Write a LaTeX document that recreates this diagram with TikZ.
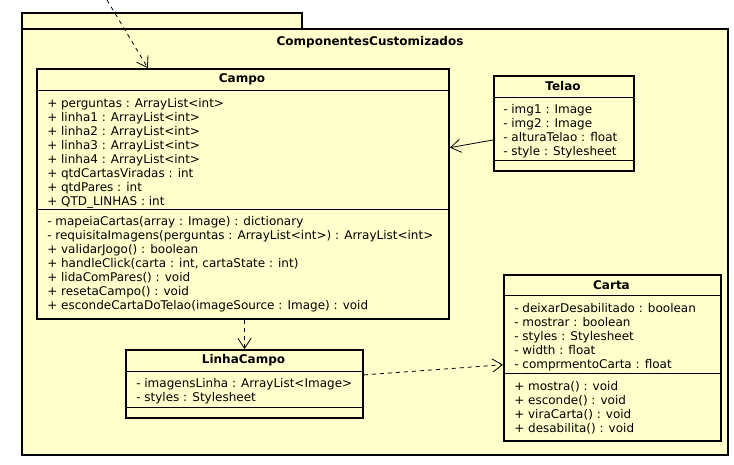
\documentclass[tikz,border=0pt]{standalone}
\usepackage{fontspec}
\setmainfont{DejaVu Sans}
\usetikzlibrary{arrows.meta}
\usetikzlibrary{calc}

\definecolor{umlfill}{RGB}{255,255,204}

\begin{document}
\begin{tikzpicture}[x=0.75pt,y=0.75pt,yscale=-1,xscale=1,
  classbox/.style={draw,line width=1.5pt,fill=umlfill,inner sep=0pt,anchor=north west},
  sepline/.style={line width=0.75pt},
  members/.style={anchor=north west,inner sep=0pt,align=left,font=\fontsize{9}{10.5}\selectfont},
  classname/.style={inner sep=0.75pt,font=\fontsize{9}{10.5}\selectfont\bfseries},
  dep/.style={line width=0.6pt,dash pattern=on 3pt off 3pt,-{Straight Barb[length=7.5pt,width=10pt]}},
  assoc/.style={line width=0.6pt,-{Straight Barb[length=7.5pt,width=10pt]}}]
\useasboundingbox (0,0) rectangle (734,464);

%Shape: Package tab
\draw [line width=1.5pt,fill=umlfill] (22,13) rectangle (302,29);
%Shape: Package body
\draw [line width=1.5pt,fill=umlfill] (22,29) rectangle (728,455);
% Text Node
\node (pkgname) [classname] at (370,42) {ComponentesCustomizados};

%Shape: Class Campo
\node (campo) [classbox,minimum width=309pt,minimum height=187.5pt] at (36,68) {};
\draw [sepline] (36,90) -- (448,90);
\draw [sepline] (36,209.5) -- (448,209.5);
% Text Node
\node (camponame) [classname] at (242,79) {Campo};
\node (campoattr) [members] at (47,98) {+ perguntas : ArrayList<int>\\
+ linha1 : ArrayList<int>\\
+ linha2 : ArrayList<int>\\
+ linha3 : ArrayList<int>\\
+ linha4 : ArrayList<int>\\
+ qtdCartasViradas : int\\
+ qtdPares : int\\
+ QTD\_LINHAS : int};
\node (campoops) [members] at (47,216) {- mapeiaCartas(array : Image) : dictionary\\
- requisitaImagens(perguntas : ArrayList<int>) : ArrayList<int>\\
+ validarJogo() : boolean\\
+ handleClick(carta : int, cartaState : int)\\
+ lidaComPares() : void\\
+ resetaCampo() : void\\
+ escondeCartaDoTelao(imageSource : Image) : void};

%Shape: Class Telao
\node (telao) [classbox,minimum width=105pt,minimum height=71.25pt] at (493,75) {};
\draw [sepline] (493,97) -- (633,97);
\draw [sepline] (493,160) -- (633,160);
% Text Node
\node (telaoname) [classname] at (563,86) {Telao};
\node (telaoattr) [members] at (503,104) {- img1 : Image\\
- img2 : Image\\
- alturaTelao : float\\
- style : Stylesheet};

%Shape: Class LinhaCampo
\node (linha) [classbox,minimum width=177.75pt,minimum height=51pt] at (125,349) {};
\draw [sepline] (125,371) -- (362,371);
\draw [sepline] (125,407) -- (362,407);
% Text Node
\node (linhaname) [classname] at (243.5,360) {LinhaCampo};
\node (linhaattr) [members] at (136,378.5) {- imagensLinha : ArrayList<Image>\\
- styles : Stylesheet};

%Shape: Class Carta
\node (carta) [classbox,minimum width=162.75pt,minimum height=124.5pt] at (503,274) {};
\draw [sepline] (503,295) -- (720,295);
\draw [sepline] (503,373) -- (720,373);
% Text Node
\node (cartaname) [classname] at (611.5,285) {Carta};
\node (cartaattr) [members] at (514,303.5) {- deixarDesabilitado : boolean\\
- mostrar : boolean\\
- styles : Stylesheet\\
- width : float\\
- comprmentoCarta : float};
\node (cartaops) [members] at (514,381.5) {+ mostra() : void\\
+ esconde() : void\\
+ viraCarta() : void\\
+ desabilita() : void};

% Connection
\coordinate (outside) at (107,0);
\draw [dep] (outside) -- ($(campo.north west)!0.27!(campo.north east)$);
% Connection
\draw [assoc] ($(telao.north west)!0.67!(telao.south west)$) -- ($(campo.north east)!0.316!(campo.south east)$);
% Connection
\draw [dep] (linha.north |- campo.south) -- (linha.north);
% Connection
\draw [dep] ($(linha.north east)!0.37!(linha.south east)$) -- ($(carta.north west)!0.54!(carta.south west)$);

\end{tikzpicture}
\end{document}
